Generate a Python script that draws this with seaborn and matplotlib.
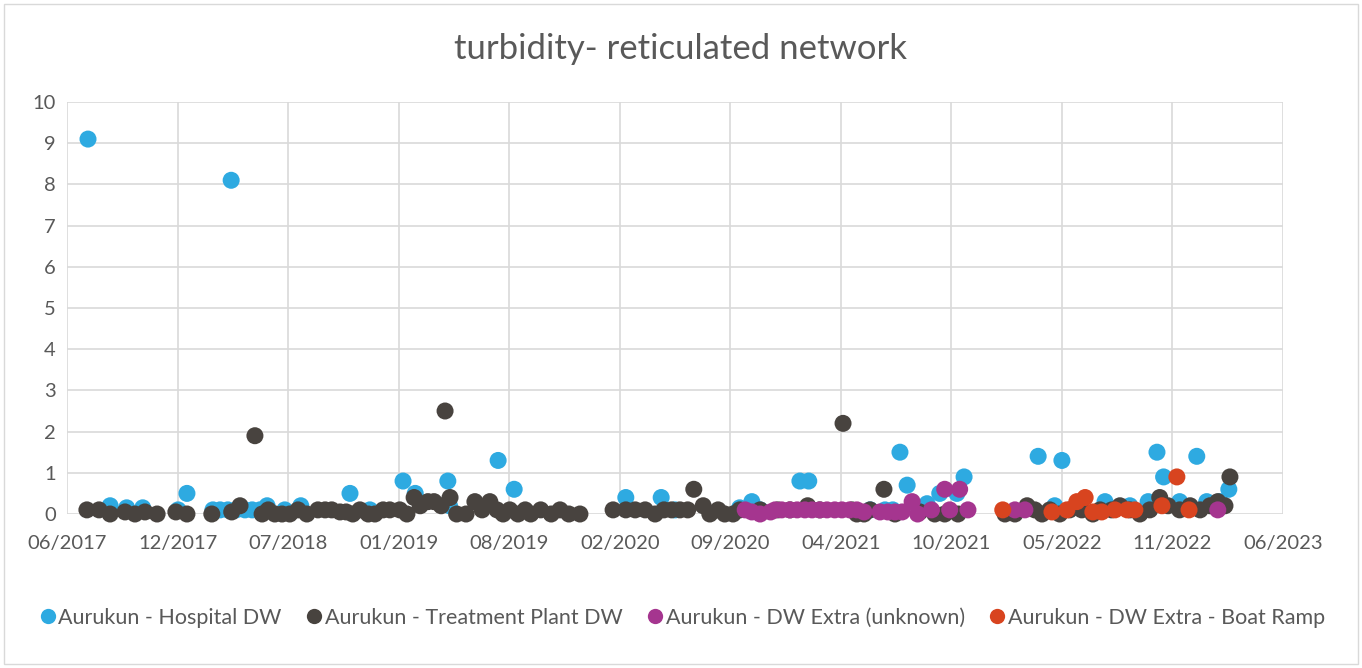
import matplotlib
matplotlib.use("Agg")
import matplotlib.pyplot as plt
import matplotlib.dates as mdates
from matplotlib.patches import Rectangle
from matplotlib.lines import Line2D
import seaborn as sns
import pandas as pd
import numpy as np

# ---------------- data ----------------
series_names = [
    "Aurukun - Hospital DW",
    "Aurukun - Treatment Plant DW",
    "Aurukun - DW Extra (unknown)",
    "Aurukun - DW Extra - Boat Ramp",
]
series_colors = ["#2EAAE1", "#48433F", "#A5358F", "#D8441F"]

hospital_dates = [
    "2017-07-09", "2017-08-18", "2017-09-17", "2017-10-16", "2017-12-19", "2018-01-04",
    "2018-02-20", "2018-03-05", "2018-03-19", "2018-03-25", "2018-04-03", "2018-04-19",
    "2018-05-02", "2018-05-16", "2018-05-29", "2018-06-30", "2018-07-29", "2018-10-26",
    "2018-12-01", "2019-01-30", "2019-02-21", "2019-04-21", "2019-04-24", "2019-07-21",
    "2019-08-19", "2020-03-08", "2020-05-11", "2020-06-05", "2020-09-30", "2020-10-22",
    "2020-11-06", "2021-01-17", "2021-02-02", "2021-05-24", "2021-06-20", "2021-07-04",
    "2021-07-17", "2021-07-30", "2021-09-04", "2021-09-27", "2021-10-28", "2021-11-10",
    "2022-03-24", "2022-04-23", "2022-05-06", "2022-07-23", "2022-09-06", "2022-10-09",
    "2022-10-25", "2022-11-06", "2022-12-05", "2023-01-05", "2023-01-23", "2023-02-16",
    "2023-03-04",
]
hospital_values = [
    9.1, 0.2, 0.15, 0.15, 0.1, 0.5,
    0.1, 0.1, 0.1, 8.1, 0.1, 0.1,
    0.1, 0.1, 0.2, 0.1, 0.2, 0.5,
    0.1, 0.8, 0.5, 0.8, 0.2, 1.3,
    0.6, 0.4, 0.4, 0.1, 0.15, 0.3,
    0.1, 0.8, 0.8, 0.1, 0.1, 0.1,
    1.5, 0.7, 0.25, 0.5, 0.5, 0.9,
    1.4, 0.2, 1.3, 0.3, 0.2, 0.3,
    1.5, 0.9, 0.3, 1.4, 0.3, 0.3,
    0.6,
]

plant_dates = [
    "2017-07-07", "2017-07-29", "2017-08-18", "2017-09-14", "2017-10-02", "2017-10-20",
    "2017-11-11", "2017-12-15", "2018-01-04", "2018-02-18", "2018-03-26", "2018-04-10",
    "2018-05-07", "2018-05-20", "2018-05-31", "2018-06-12", "2018-06-25", "2018-07-09",
    "2018-07-24", "2018-08-09", "2018-08-29", "2018-09-11", "2018-09-23", "2018-10-08",
    "2018-10-19", "2018-10-31", "2018-11-13", "2018-11-28", "2018-12-10", "2018-12-25",
    "2019-01-06", "2019-01-24", "2019-02-06", "2019-02-19", "2019-03-02", "2019-03-16",
    "2019-03-27", "2019-04-09", "2019-04-16", "2019-04-25", "2019-05-07", "2019-05-24",
    "2019-06-09", "2019-06-22", "2019-07-06", "2019-07-19", "2019-07-30", "2019-08-11",
    "2019-08-26", "2019-09-08", "2019-09-18", "2019-10-06", "2019-10-25", "2019-11-10",
    "2019-11-26", "2019-12-16", "2020-02-14", "2020-03-08", "2020-03-25", "2020-04-12",
    "2020-04-30", "2020-05-16", "2020-05-30", "2020-06-14", "2020-06-28", "2020-07-09",
    "2020-07-26", "2020-08-07", "2020-08-22", "2020-09-03", "2020-09-18", "2020-09-30",
    "2020-11-06", "2020-12-08", "2020-12-30", "2021-01-31", "2021-02-22", "2021-04-05",
    "2021-04-21", "2021-04-30", "2021-05-13", "2021-05-24", "2021-06-18", "2021-07-08",
    "2021-08-22", "2021-09-18", "2021-10-06", "2021-10-30", "2022-01-23", "2022-02-10",
    "2022-03-04", "2022-03-18", "2022-03-31", "2022-04-14", "2022-05-02", "2022-05-20",
    "2022-06-11", "2022-07-01", "2022-07-14", "2022-08-04", "2022-08-19", "2022-09-06",
    "2022-09-24", "2022-10-12", "2022-10-30", "2022-11-14", "2022-12-05", "2022-12-24",
    "2023-01-11", "2023-01-29", "2023-02-12", "2023-02-25", "2023-03-06",
]
plant_values = [
    0.1, 0.1, 0.0, 0.05, 0.0, 0.05,
    0.0, 0.05, 0.0, 0.0, 0.05, 0.2,
    1.9, 0.0, 0.1, 0.0, 0.0, 0.0,
    0.1, 0.0, 0.1, 0.1, 0.1, 0.05,
    0.05, 0.0, 0.1, 0.0, 0.0, 0.1,
    0.1, 0.1, 0.0, 0.4, 0.2, 0.3,
    0.3, 0.2, 2.5, 0.4, 0.0, 0.0,
    0.3, 0.1, 0.3, 0.1, 0.0, 0.1,
    0.0, 0.1, 0.0, 0.1, 0.0, 0.1,
    0.0, 0.0, 0.1, 0.1, 0.1, 0.1,
    0.0, 0.1, 0.1, 0.1, 0.1, 0.6,
    0.2, 0.0, 0.1, 0.0, 0.0, 0.1,
    0.1, 0.1, 0.1, 0.2, 0.1, 2.2,
    0.1, 0.0, 0.0, 0.1, 0.6, 0.0,
    0.05, 0.0, 0.0, 0.0, 0.0, 0.0,
    0.2, 0.1, 0.0, 0.1, 0.0, 0.1,
    0.1, 0.0, 0.1, 0.1, 0.2, 0.1,
    0.0, 0.1, 0.4, 0.2, 0.1, 0.2,
    0.1, 0.2, 0.3, 0.2, 0.9,
]

unknown_dates = [
    "2020-10-10", "2020-10-22", "2020-11-06", "2020-11-25", "2020-12-03", "2020-12-15",
    "2020-12-30", "2021-01-12", "2021-01-26", "2021-02-08", "2021-02-22", "2021-03-07",
    "2021-03-21", "2021-04-03", "2021-04-17", "2021-04-30", "2021-05-13", "2021-06-11",
    "2021-06-25", "2021-07-08", "2021-07-21", "2021-08-08", "2021-08-18", "2021-09-12",
    "2021-10-06", "2021-10-15", "2021-11-02", "2021-11-17", "2022-02-10", "2022-02-28",
    "2023-02-12",
]
unknown_values = [
    0.1, 0.05, 0.0, 0.05, 0.1, 0.1,
    0.1, 0.1, 0.1, 0.1, 0.1, 0.1,
    0.1, 0.1, 0.1, 0.1, 0.05, 0.05,
    0.05, 0.05, 0.05, 0.3, 0.0, 0.1,
    0.6, 0.1, 0.6, 0.1, 0.1, 0.1,
    0.1,
]

boat_dates = [
    "2022-01-19", "2022-04-18", "2022-05-15", "2022-06-02", "2022-06-17", "2022-07-01",
    "2022-07-17", "2022-08-10", "2022-09-01", "2022-09-15", "2022-11-03", "2022-11-30",
    "2022-12-22",
]
boat_values = [
    0.1, 0.05, 0.1, 0.3, 0.4, 0.05,
    0.05, 0.1, 0.1, 0.1, 0.2, 0.9,
    0.1,
]

y_ticks = list(range(0, 11))
x_start = "2017-06-01"
x_tick_step_days = 200
n_x_ticks = 12

# ---------------- build frame ----------------
frames = []
for name, d, v in [
    (series_names[0], hospital_dates, hospital_values),
    (series_names[1], plant_dates, plant_values),
    (series_names[2], unknown_dates, unknown_values),
    (series_names[3], boat_dates, boat_values),
]:
    frames.append(pd.DataFrame({"date": pd.to_datetime(d), "value": v, "series": name}))
df = pd.concat(frames, ignore_index=True)

# ---------------- plot ----------------
sns.set_theme(style="white")
plt.rcParams["font.family"] = ["Lato", "DejaVu Sans"]

fig = plt.figure(figsize=(13.62, 6.68), dpi=100)
ax = fig.add_axes([67 / 1362, 1 - 514 / 668, (1283 - 67) / 1362, (514 - 102) / 668])

palette = dict(zip(series_names, series_colors))
sns.scatterplot(
    data=df, x="date", y="value", hue="series", hue_order=series_names,
    palette=palette, s=150, linewidth=0, edgecolor="none", ax=ax, legend=False,
    zorder=3, clip_on=False,
)

start = pd.Timestamp(x_start)
ticks = [start + pd.Timedelta(days=x_tick_step_days * i) for i in range(n_x_ticks)]
ax.set_xlim(ticks[0], ticks[-1])
ax.set_xticks(ticks)
ax.xaxis.set_major_formatter(mdates.DateFormatter("%m/%Y"))
ax.set_ylim(0, 10)
ax.set_yticks(y_ticks)

ax.grid(True, color="#D9D9D9", linewidth=1.2, zorder=0)
ax.set_axisbelow(True)
for sp in ax.spines.values():
    sp.set_visible(False)
ax.tick_params(axis="both", length=0, labelsize=14.5, colors="#595959", pad=8)
ax.tick_params(axis="x", pad=15)
ax.set_xlabel("")
ax.set_ylabel("")

fig.text(0.5, 0.926, "turbidity- reticulated network", ha="center", va="center",
         fontsize=25, color="#595959")

handles = [Line2D([0], [0], marker="o", linestyle="none", markersize=11,
                  markerfacecolor=c, markeredgewidth=0) for c in series_colors]
fig.legend(handles, series_names, loc="center", bbox_to_anchor=(0.5, 1 - 618 / 668),
           ncol=4, frameon=False, fontsize=15.5, handletextpad=0.0,
           columnspacing=1.0, labelcolor="#595959", handlelength=1.0)

fig.patches.append(Rectangle((4 / 1362, 4 / 668), 1 - 8 / 1362, 1 - 8 / 668,
                             transform=fig.transFigure, fill=False,
                             edgecolor="#D9D9D9", linewidth=1))

fig.savefig("out.png", dpi=100)
